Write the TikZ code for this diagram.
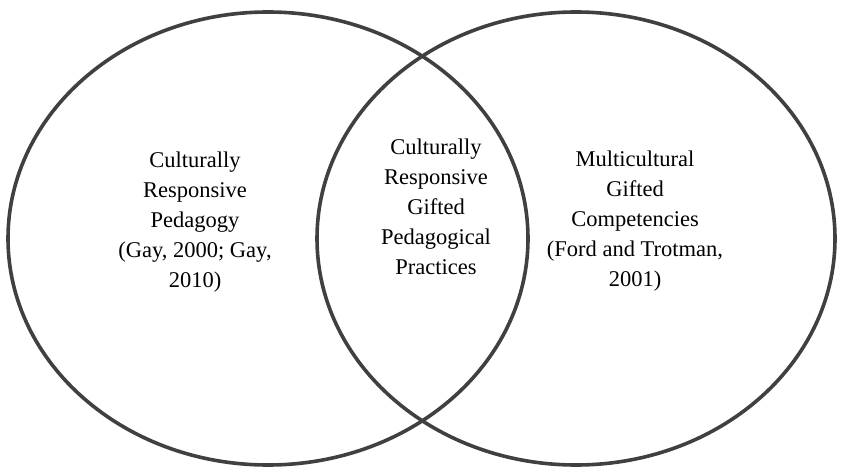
\documentclass[tikz,border=0pt]{standalone}
\usepackage{fontspec}
\setmainfont{Liberation Serif}
\usepackage{tikz}
\usetikzlibrary{positioning}

\begin{document}
\begin{tikzpicture}[
    x=1pt, y=1pt,
    set/.style={draw=black!75, line width=3.6pt},
    settext/.style={align=center, text=black, inner sep=0pt,
        font=\fontsize{22.5}{30}\selectfont}
]
\useasboundingbox (0,0) rectangle (841,472);
\draw[set] (268,233.5) ellipse [x radius=260pt, y radius=226.5pt];
\draw[set] (576,233.5) ellipse [x radius=259pt, y radius=226.5pt];

\node (crp) [settext] at (195,250) {Culturally\\Responsive\\Pedagogy\\(Gay, 2000; Gay,\\2010)};
\node (crg) [settext] at (436,265) {Culturally\\Responsive\\Gifted\\Pedagogical\\Practices};
\node (mgc) [settext] at (635,251) {Multicultural\\Gifted\\Competencies\\(Ford and Trotman,\\2001)};
\end{tikzpicture}
\end{document}
